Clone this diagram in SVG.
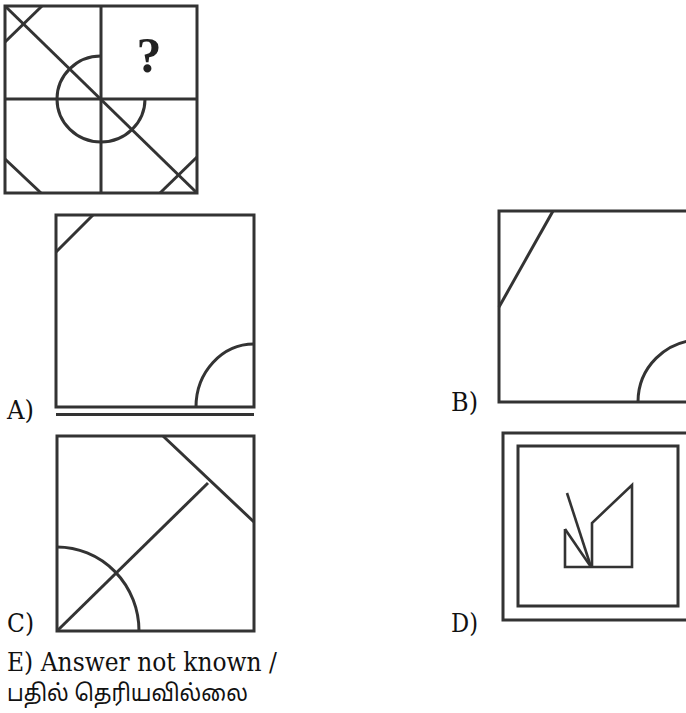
<svg xmlns="http://www.w3.org/2000/svg" width="686" height="713" viewBox="0 0 686 713">
<style>
.ln{fill:none;stroke:#333;stroke-width:3;stroke-linecap:butt;stroke-linejoin:miter}
.thin{fill:none;stroke:#333;stroke-width:2.6;stroke-linejoin:miter}
.lbl{font-family:"DejaVu Serif","Liberation Serif",serif;font-size:26px;fill:#111}
.ta{font-family:"Noto Sans Tamil","Latha","Noto Sans","DejaVu Sans",sans-serif;font-size:23px;fill:#111}
</style>
<rect width="686" height="713" fill="#fff"/>
<g id="question">
<rect class="ln" x="5" y="6" width="192" height="187"/>
<line class="ln" x1="101" y1="6" x2="101" y2="193"/>
<line class="ln" x1="5" y1="99" x2="197" y2="99"/>
<line class="ln" x1="5" y1="6" x2="197" y2="193"/>
<line class="ln" x1="42" y1="6" x2="5" y2="42"/>
<line class="ln" x1="5" y1="159" x2="41" y2="193"/>
<line class="ln" x1="160" y1="193" x2="197" y2="157"/>
<path class="ln" d="M101,56 A44,43 0 1 0 145,99"/>
<text x="149" y="72" text-anchor="middle" style="font-family:'Liberation Serif',serif;font-weight:bold;font-size:50px;fill:#222">?</text>
</g>
<g id="optionA">
<rect class="ln" x="56" y="215" width="198" height="192"/>
<line class="ln" x1="93" y1="215" x2="56" y2="252"/>
<path class="ln" d="M196,407 A58,63 0 0 1 254,344"/>
<line class="ln" x1="56" y1="414.5" x2="254" y2="414.5"/>
<text class="lbl" x="7" y="419" textLength="27" lengthAdjust="spacingAndGlyphs">A)</text>
</g>
<g id="optionB">
<rect class="ln" x="499" y="211" width="201" height="191"/>
<line class="ln" x1="553" y1="211" x2="499" y2="307"/>
<path class="ln" d="M638,402 A62,62 0 0 1 700,340"/>
<text class="lbl" x="451" y="411" textLength="27" lengthAdjust="spacingAndGlyphs">B)</text>
</g>
<g id="optionC">
<rect class="ln" x="57" y="436" width="197" height="195"/>
<line class="ln" x1="57" y1="631" x2="208" y2="483"/>
<line class="ln" x1="163" y1="436" x2="254" y2="522"/>
<path class="ln" d="M57,547 A82,84 0 0 1 139,631"/>
<text class="lbl" x="7" y="632" textLength="27" lengthAdjust="spacingAndGlyphs">C)</text>
</g>
<g id="optionD">
<rect class="ln" x="503" y="433" width="190" height="187"/>
<rect class="ln" x="518" y="446" width="160" height="160"/>
<polyline class="thin" points="565,529 565,567 632,567 632,485 592,523 592,567"/>
<line class="thin" x1="565" y1="529" x2="591" y2="567"/>
<line class="thin" x1="567" y1="493" x2="591" y2="567"/>
<text class="lbl" x="451" y="632" textLength="27" lengthAdjust="spacingAndGlyphs">D)</text>
</g>
<g id="optionE">
<text class="lbl" x="7" y="671" textLength="270" lengthAdjust="spacingAndGlyphs">E) Answer not known /</text>
<text class="ta" x="7" y="701" textLength="241" lengthAdjust="spacingAndGlyphs">பதில் தெரியவில்லை</text>
</g>
</svg>
